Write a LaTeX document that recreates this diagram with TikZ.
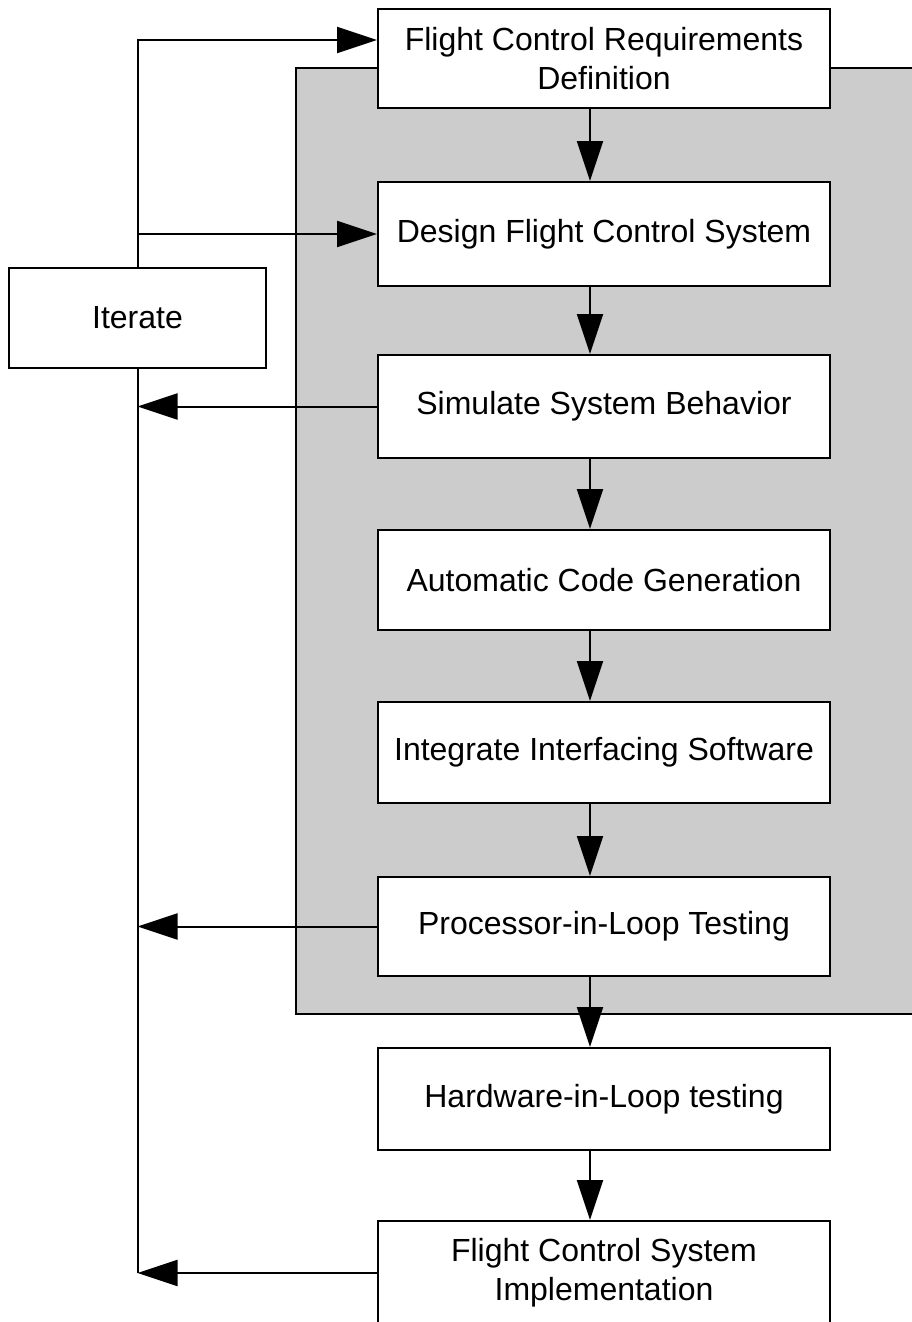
\documentclass[tikz,border=0pt]{standalone}
\usepackage{fontspec}
\setmainfont{Liberation Sans}
\usetikzlibrary{arrows.meta}
\definecolor{panel}{RGB}{204,204,204}
\begin{document}
\begin{tikzpicture}[x=1pt,y=-1pt,
  stage/.style={draw, fill=white, line width=2pt, minimum width=452pt,
    inner sep=0pt, align=center, font=\fontsize{32}{39}\selectfont},
  flow/.style={line width=2pt, -{Triangle[length=40pt,width=26pt]}},
  link/.style={line width=2pt}]
\useasboundingbox (0,0) rectangle (911,1322);

% shaded panel behind the software stages
\draw[link, fill=panel] (296,68) rectangle (930,1014);

% process stages
\node[stage, minimum height=99pt]  (b1) at (604,58.5)  {Flight Control Requirements\\Definition};
\node[stage, minimum height=104pt] (b2) at (604,234)   {Design Flight Control System};
\node[stage, minimum height=103pt] (b3) at (604,406.5) {Simulate System Behavior};
\node[stage, minimum height=100pt] (b4) at (604,580)   {Automatic Code Generation};
\node[stage, minimum height=101pt] (b5) at (604,752.5) {Integrate Interfacing Software};
\node[stage, minimum height=99pt]  (b6) at (604,926.5) {Processor-in-Loop Testing};
\node[stage, minimum height=102pt] (b7) at (604,1099)  {Hardware-in-Loop testing};
\node[stage, minimum height=104pt] (b8) at (604,1273)  {Flight Control System\\Implementation};

\node[stage, minimum width=257pt, minimum height=100pt] (it) at (137.5,318) {Iterate};

% main downward flow
\coordinate (ax) at (590,0);
\foreach \a/\b in {b1/b2,b2/b3,b3/b4,b4/b5,b5/b6,b6/b7,b7/b8}
  \draw[flow] (\a.south -| ax) -- (\b.north -| ax);

% iteration loop
\coordinate (y1) at (0,40);
\draw[flow] (it.north) |- (b1.west |- y1);
\draw[flow] (it.north |- b2.west) -- (b2.west);
\draw[link] (it.south) -- (it.south |- b8.west);
\draw[flow] (b3.west) -- (b3.west -| it.south);
\draw[flow] (b6.west) -- (b6.west -| it.south);
\draw[flow] (b8.west) -- (b8.west -| it.south);
\end{tikzpicture}
\end{document}
